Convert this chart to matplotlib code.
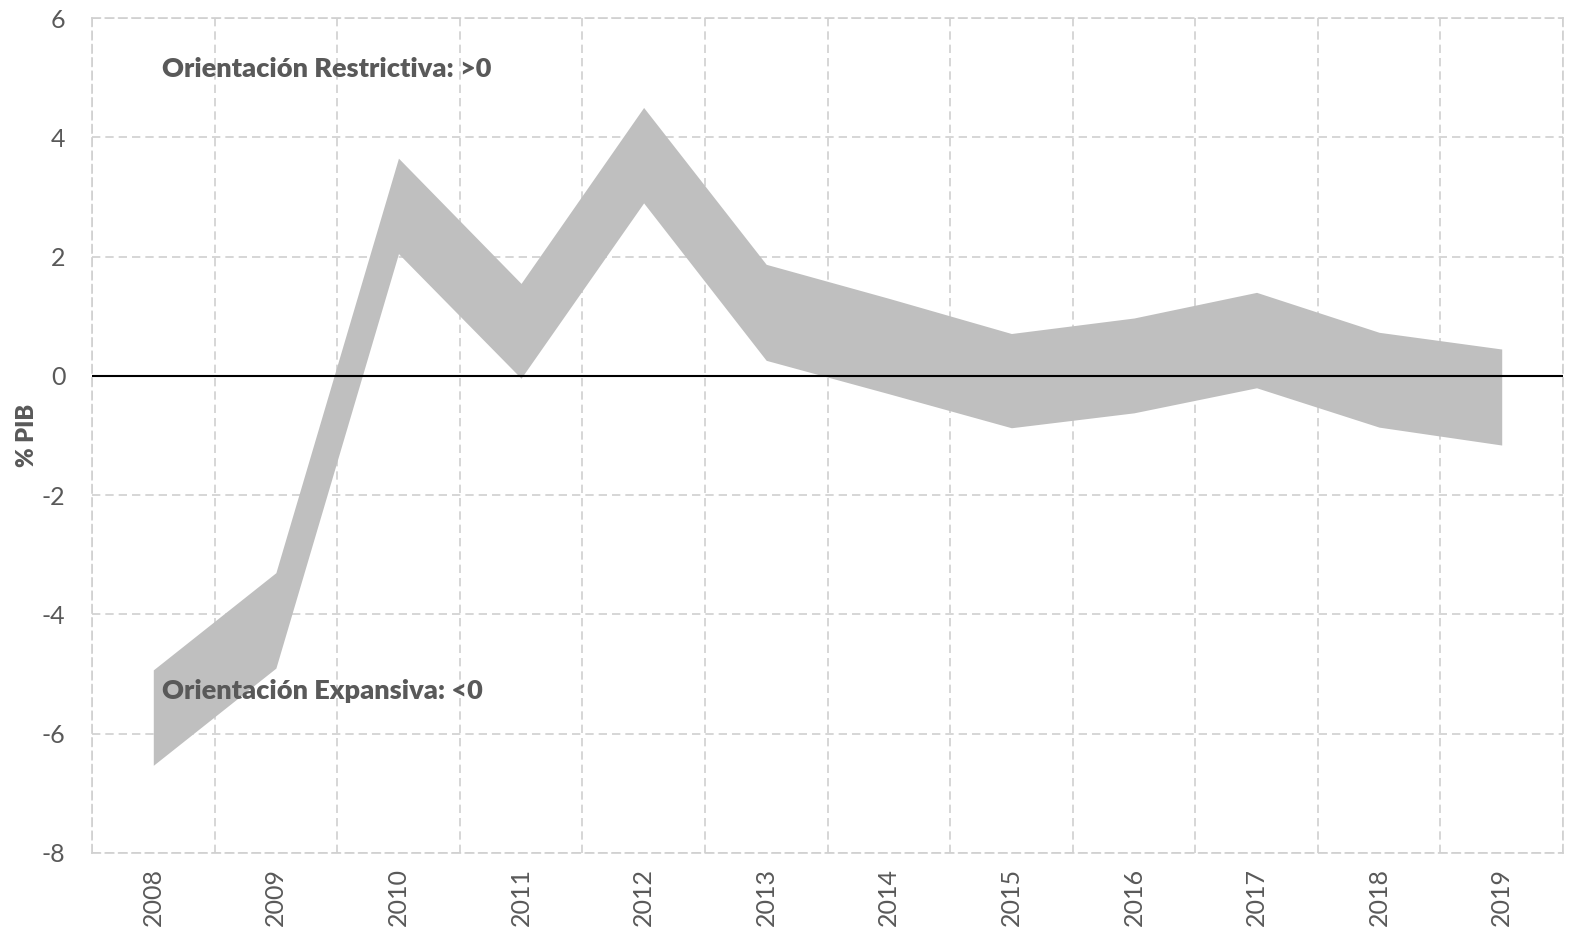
import matplotlib
matplotlib.use("Agg")
import matplotlib.pyplot as plt
import numpy as np

years = ["2008", "2009", "2010", "2011", "2012", "2013", "2014", "2015", "2016", "2017", "2018", "2019"]
upper = [-4.93, -3.3, 3.65, 1.55, 4.5, 1.87, 1.3, 0.71, 0.97, 1.4, 0.73, 0.45]
lower = [-6.53, -4.9, 2.05, -0.04, 2.9, 0.26, -0.3, -0.87, -0.62, -0.2, -0.86, -1.16]
yticks = [-8, -6, -4, -2, 0, 2, 4, 6]
label_top = "Orientación Restrictiva: >0"
label_bottom = "Orientación Expansiva: <0"
ylabel = "% PIB"

plt.rcParams['font.family'] = ['Lato', 'DejaVu Sans']
text_color = "#595959"
grid_color = "#D0D0D0"

fig = plt.figure(figsize=(15.79, 9.31), dpi=100)
ax = fig.add_axes([92/1579, 1 - 853/931, (1563 - 92)/1579, (853 - 18)/931])

x = np.arange(len(years))
ax.fill_between(x, lower, upper, color="#BFBFBF", linewidth=0, zorder=2)
ax.axhline(0, color="black", linewidth=1.5, zorder=3)

ax.set_xlim(-0.5, len(years) - 0.5)
ax.set_ylim(-8, 6)
ax.set_yticks(yticks)
ax.set_yticklabels([str(v) for v in yticks])
ax.set_xticks(x)
ax.set_xticklabels(years, rotation=90)
ax.set_xticks(np.arange(-0.5, len(years) + 0.5, 1), minor=True)

ax.tick_params(axis='both', which='both', length=0, labelsize=18, labelcolor=text_color)
ax.tick_params(axis='x', pad=11)
ax.tick_params(axis='y', pad=19)

ax.grid(True, which='minor', axis='x', color=grid_color, linestyle=(0, (5, 3)), linewidth=1.2, zorder=0)
ax.grid(True, which='major', axis='y', color=grid_color, linestyle=(0, (5, 3)), linewidth=1.2, zorder=0)
ax.set_axisbelow(True)

for s in ax.spines.values():
    s.set_color(grid_color)
    s.set_linestyle((0, (5, 3)))
    s.set_linewidth(1.2)

ax.set_ylabel(ylabel, fontsize=17, fontweight='heavy', color=text_color, labelpad=3)

ax.text(0.07, 5.15, label_top, fontsize=19.5, fontweight='heavy', color=text_color, va='center', ha='left', zorder=4)
ax.text(0.07, -5.28, label_bottom, fontsize=19.5, fontweight='heavy', color=text_color, va='center', ha='left', zorder=4)

fig.savefig("out.png", dpi=100)
